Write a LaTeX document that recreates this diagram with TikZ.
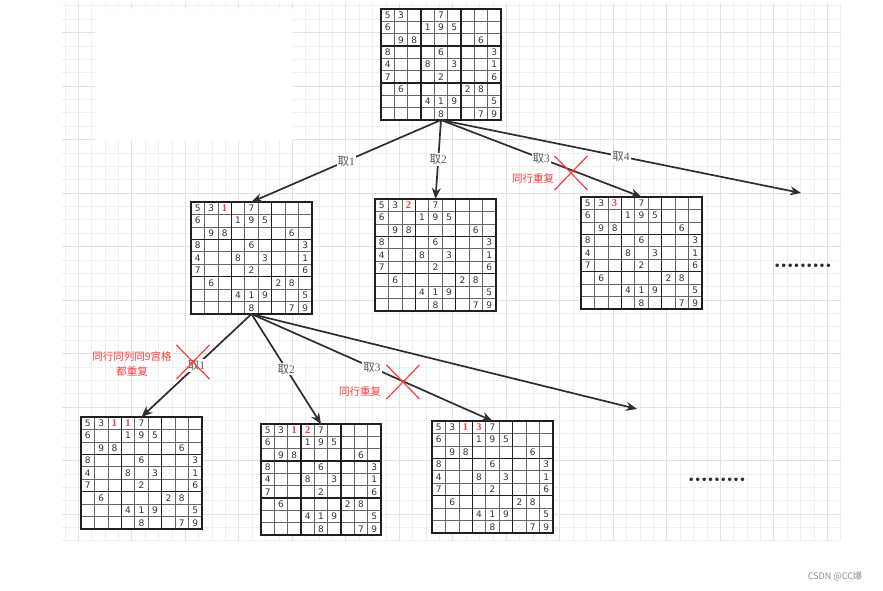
\documentclass[tikz,border=0pt]{standalone}
\usepackage{fontspec}
\setmainfont{Liberation Serif}
\newfontfamily\cjk{Noto Sans CJK SC}
\newfontfamily\dejavu{DejaVu Sans}
\usetikzlibrary{arrows.meta,shapes.misc}
\definecolor{arrowc}{HTML}{2E2E2E}
\definecolor{redc}{HTML}{FF3B3B}
\definecolor{digc}{HTML}{333333}
\definecolor{minorg}{HTML}{EFEFEF}
\definecolor{majorg}{HTML}{E2E2E2}
\tikzset{
 sdkbox/.style={draw=none, fill=white, inner sep=0pt, outer sep=0pt, rectangle},
 cellline/.style={draw=black!60, line width=0.7pt},
 blockline/.style={draw=black!88, line width=1.4pt, line cap=rect},
 dig/.style={font=\dejavu\fontsize{9}{9}\selectfont, text=digc, inner sep=0pt},
 reddig/.style={font=\bfseries\fontsize{10.5}{10.5}\selectfont, text=redc, inner sep=0pt},
 conn/.style={draw=arrowc, line width=1.7pt, -{Stealth[length=11pt,width=9pt]}},
 lbl/.style={fill=white, inner sep=1pt, font=\fontsize{11.5}{11.5}\selectfont, text=arrowc!80},
 redlbl/.style={text=redc, font=\cjk\fontsize{10.5}{15}\selectfont, align=center, inner sep=0pt},
 cross/.style={cross out, draw=redc, line width=1.2pt, inner sep=0pt},
 dotsnode/.style={font=\dejavu\bfseries\fontsize{10}{10}\selectfont, text=arrowc, inner sep=0pt},
}
\newcommand\qu[1]{{\cjk 取}#1}
\newcommand\sdk[7]{%
 \node[sdkbox, minimum width=#4pt, minimum height=#5pt, anchor=north west] (#1) at (#2,#3) {};
 \pgfmathsetmacro\sdkcw{#4/9}\pgfmathsetmacro\sdkch{#5/9}
 \begin{scope}[shift={(#2,#3)}, x=\sdkcw pt, y=-\sdkch pt]
 \foreach \i in {1,2,4,5,7,8} {\draw[cellline] (\i,0) -- (\i,9); \draw[cellline] (0,\i) -- (9,\i);}
 \foreach \i in {0,3,6,9} {\draw[blockline] (\i,0) -- (\i,9); \draw[blockline] (0,\i) -- (9,\i);}
 \foreach \r/\c/\d in {1/1/5,1/2/3,1/5/7,
   2/1/6,2/4/1,2/5/9,2/6/5,
   3/2/9,3/3/8,3/8/6,
   4/1/8,4/5/6,4/9/3,
   5/1/4,5/4/8,5/6/3,5/9/1,
   6/1/7,6/5/2,6/9/6,
   7/2/6,7/7/2,7/8/8,
   8/4/4,8/5/1,8/6/9,8/9/5,
   9/5/8,9/8/7,9/9/9}
   \node[dig] at (\c-0.5,\r-0.5) {\d};
 \node[reddig] at (2.5,0.5) {#6};
 \node[reddig] at (3.5,0.5) {#7};
 \end{scope}}
\begin{document}
\begin{tikzpicture}[x=1pt,y=-1pt]
\useasboundingbox (0,0) rectangle (883,591);
\fill[white] (0,0) rectangle (883,591);
% background grid
\foreach \k in {0,...,58} \draw[minorg, line width=0.7pt] ({64.9+13.375*\k},3) -- ({64.9+13.375*\k},541);
\foreach \k in {0,...,40} \draw[minorg, line width=0.7pt] (62,{5.75+13.375*\k}) -- (841,{5.75+13.375*\k});
\foreach \k in {0,...,14} \draw[majorg, line width=0.8pt] ({78.3+53.5*\k},3) -- ({78.3+53.5*\k},541);
\foreach \k in {0,...,9} \draw[majorg, line width=0.8pt] (62,{32.5+53.5*\k}) -- (841,{32.5+53.5*\k});
\fill[white] (95,9) rectangle (293,140);
% sudoku grids
\sdk{g0}{381}{9}{120}{111}{}{}
\sdk{g1}{191}{202}{121}{112}{1}{}
\sdk{g2}{375}{199}{121}{112}{2}{}
\sdk{g3}{581}{197}{121}{112}{3}{}
\sdk{h1}{81}{417}{121}{112}{1}{1}
\sdk{h2}{261}{424}{120}{111}{1}{2}
\sdk{h3}{432}{421}{121}{112}{1}{3}
\coordinate (e4) at (801,193);
\coordinate (f4) at (637,409);
% connectors
\draw[conn] (g0.south) -- node[lbl] (l1) {\qu{1}} (g1.north);
\draw[conn] (g0.south) -- node[lbl] (l2) {\qu{2}} (g2.north);
\draw[conn] (g0.south) -- node[lbl] (l3) {\qu{3}} (g3.north);
\draw[conn] (g0.south) -- node[lbl] (l4) {\qu{4}} (e4);
\draw[conn] (g1.south) -- node[lbl] (m1) {\qu{1}} (h1.north);
\draw[conn] (g1.south) -- node[lbl] (m2) {\qu{2}} (h2.north);
\draw[conn] (g1.south) -- node[lbl] (m3) {\qu{3}} (h3.north);
\draw[conn] (g1.south) -- (f4);
% red marks
\node[cross, minimum width=32pt, minimum height=33pt] (x1) at (571,173) {};
\node[cross, minimum width=32pt, minimum height=33pt] (x2) at (193,362) {};
\node[cross, minimum width=32pt, minimum height=33pt] (x3) at (403,382) {};
\node[redlbl] (r1) at (533,179) {同行重复};
\node[redlbl] (r2) at (132,364) {同行同列同9宫格\\都重复};
\node[redlbl] (r3) at (360,392) {同行重复};
% dots
\node[dotsnode] (d1) at (803,267) {•••••••••};
\node[dotsnode] (d2) at (717,481) {•••••••••};
% watermark
\node[font=\cjk\fontsize{9}{9}\selectfont, text=black!45, inner sep=0pt] (wm) at (835,577) {CSDN @CC爆};
\end{tikzpicture}
\end{document}
